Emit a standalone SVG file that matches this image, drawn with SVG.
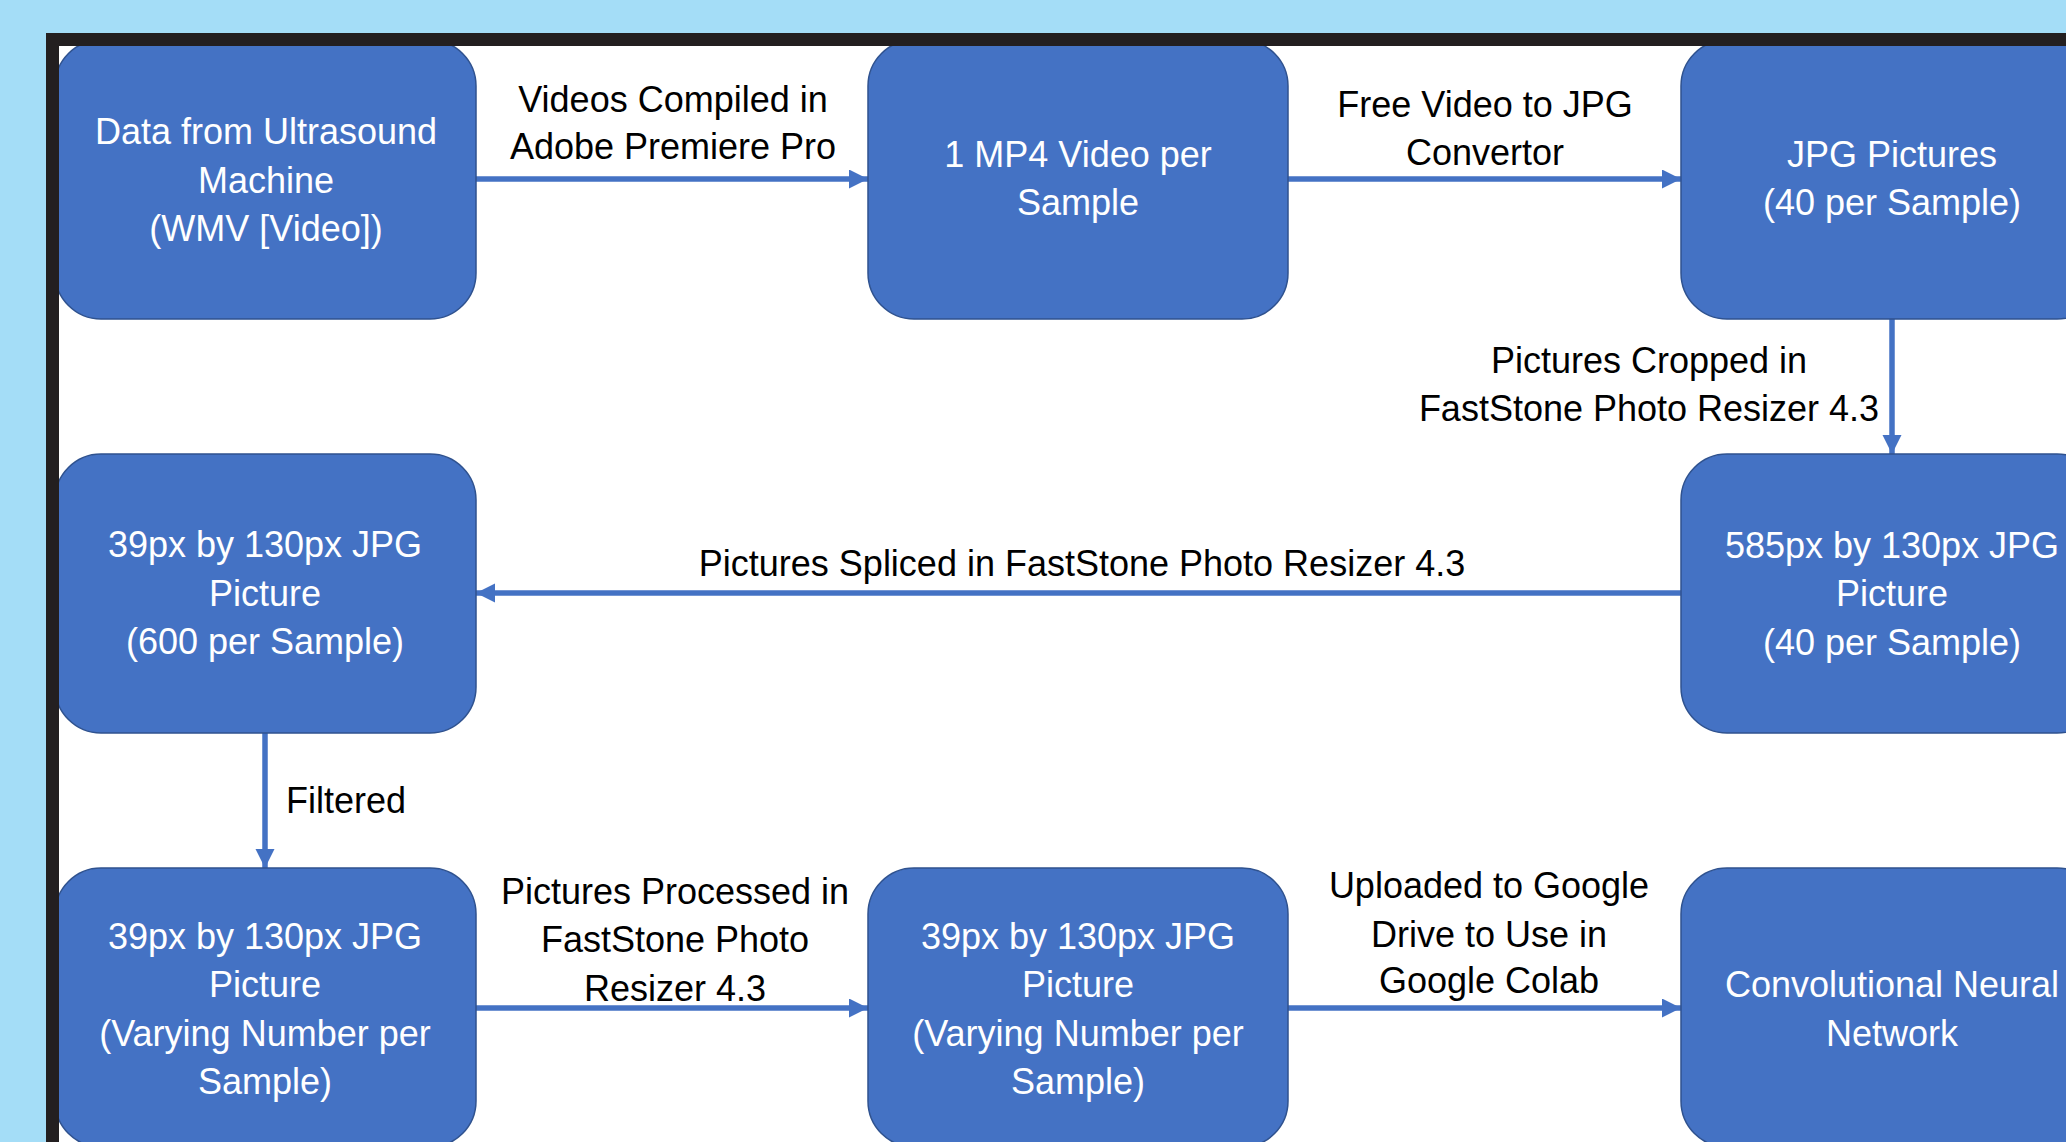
<svg xmlns="http://www.w3.org/2000/svg" width="2066" height="1142" viewBox="0 0 2066 1142">
<style>
.node rect{fill:#4472c4;stroke:#2f528f;stroke-width:1.5}
.node text{fill:#ffffff;font-family:"Liberation Sans",Arial,sans-serif;font-size:36px;text-anchor:middle}
.lbl{fill:#000000;font-family:"Liberation Sans",Arial,sans-serif;font-size:36px;text-anchor:middle}
.conn line{stroke:#4472c4;stroke-width:5.5;fill:none}
</style>
<defs>
<marker id="ah" markerUnits="userSpaceOnUse" markerWidth="20" markerHeight="20" refX="19" refY="9.5" orient="auto">
<path d="M0,0 L19,9.5 L0,19 Z" fill="#4472c4"/>
</marker>
</defs>
<rect x="0" y="0" width="2066" height="1142" fill="#a4ddf7"/>
<rect x="59" y="46" width="2007" height="1096" fill="#ffffff"/>

<g id="connectors" class="conn">
<line x1="476" y1="179" x2="868" y2="179" marker-end="url(#ah)"/>
<line x1="1288" y1="179" x2="1681" y2="179" marker-end="url(#ah)"/>
<line x1="1892" y1="319" x2="1892" y2="454" marker-end="url(#ah)"/>
<line x1="1681" y1="593" x2="476" y2="593" marker-end="url(#ah)"/>
<line x1="265" y1="733" x2="265" y2="868" marker-end="url(#ah)"/>
<line x1="476" y1="1008" x2="868" y2="1008" marker-end="url(#ah)"/>
<line x1="1288" y1="1008" x2="1681" y2="1008" marker-end="url(#ah)"/>
</g>

<g id="node-ultrasound" class="node">
<rect x="55" y="40" width="421" height="279" rx="46" ry="46"/>
<text x="266" y="144">Data from Ultrasound</text>
<text x="266" y="193">Machine</text>
<text x="266" y="241">(WMV [Video])</text>
</g>
<g id="node-mp4" class="node">
<rect x="868" y="40" width="420" height="279" rx="46" ry="46"/>
<text x="1078" y="167">1 MP4 Video per</text>
<text x="1078" y="215">Sample</text>
</g>
<g id="node-jpg" class="node">
<rect x="1681" y="40" width="422" height="279" rx="46" ry="46"/>
<text x="1892" y="167">JPG Pictures</text>
<text x="1892" y="215">(40 per Sample)</text>
</g>
<g id="node-585" class="node">
<rect x="1681" y="454" width="422" height="279" rx="46" ry="46"/>
<text x="1892" y="558">585px by 130px JPG</text>
<text x="1892" y="606">Picture</text>
<text x="1892" y="655">(40 per Sample)</text>
</g>
<g id="node-39-600" class="node">
<rect x="55" y="454" width="421" height="279" rx="46" ry="46"/>
<text x="265" y="557">39px by 130px JPG</text>
<text x="265" y="606">Picture</text>
<text x="265" y="654">(600 per Sample)</text>
</g>
<g id="node-39-varying-a" class="node">
<rect x="55" y="868" width="421" height="279" rx="46" ry="46"/>
<text x="265" y="949">39px by 130px JPG</text>
<text x="265" y="997">Picture</text>
<text x="265" y="1046">(Varying Number per</text>
<text x="265" y="1094">Sample)</text>
</g>
<g id="node-39-varying-b" class="node">
<rect x="868" y="868" width="420" height="279" rx="46" ry="46"/>
<text x="1078" y="949">39px by 130px JPG</text>
<text x="1078" y="997">Picture</text>
<text x="1078" y="1046">(Varying Number per</text>
<text x="1078" y="1094">Sample)</text>
</g>
<g id="node-cnn" class="node">
<rect x="1681" y="868" width="422" height="279" rx="46" ry="46"/>
<text x="1892" y="997">Convolutional Neural</text>
<text x="1892" y="1046">Network</text>
</g>

<g id="labels">
<text class="lbl" x="673" y="112">Videos Compiled in</text>
<text class="lbl" x="673" y="159">Adobe Premiere Pro</text>
<text class="lbl" x="1485" y="117">Free Video to JPG</text>
<text class="lbl" x="1485" y="165">Convertor</text>
<text class="lbl" x="1649" y="373">Pictures Cropped in</text>
<text class="lbl" x="1649" y="421">FastStone Photo Resizer 4.3</text>
<text class="lbl" x="1082" y="576">Pictures Spliced in FastStone Photo Resizer 4.3</text>
<text class="lbl" x="286" y="813" style="text-anchor:start">Filtered</text>
<text class="lbl" x="675" y="904">Pictures Processed in</text>
<text class="lbl" x="675" y="952">FastStone Photo</text>
<text class="lbl" x="675" y="1001">Resizer 4.3</text>
<text class="lbl" x="1489" y="898">Uploaded to Google</text>
<text class="lbl" x="1489" y="947">Drive to Use in</text>
<text class="lbl" x="1489" y="993">Google Colab</text>
</g>

<g id="frame">
<rect x="46" y="33" width="2020" height="13" fill="#231f20"/>
<rect x="46" y="33" width="13" height="1109" fill="#231f20"/>
</g>
</svg>
